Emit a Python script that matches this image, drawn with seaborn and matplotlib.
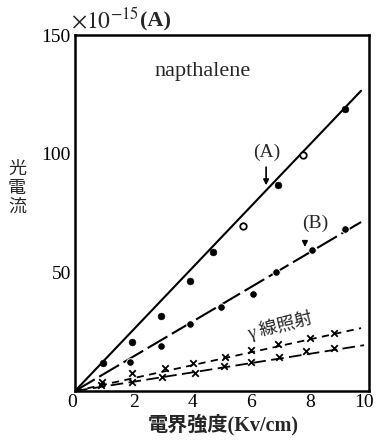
import matplotlib
matplotlib.use("Agg")
import matplotlib.pyplot as plt
import matplotlib.transforms as mtransforms
import seaborn as sns
import pandas as pd

sns.set_theme(style="white")
plt.rcParams["font.family"] = ["Liberation Serif", "Noto Sans CJK JP", "DejaVu Sans"]
plt.rcParams["mathtext.fontset"] = "stix"

# Photocurrent (x1e-15 A) against field strength (kV/cm)
field_a = [0.95, 1.93, 2.92, 3.90, 4.68, 5.73, 6.92, 7.76, 9.19]
current_a = [11.8, 20.6, 31.5, 46.2, 58.4, 69.7, 87.0, 99.6, 118.9]
hollow_a = [False, False, False, False, False, True, False, True, False]

field_b = [1.86, 2.94, 3.90, 4.95, 6.05, 6.85, 8.07, 9.19]
current_b = [12.2, 18.9, 28.2, 35.3, 40.8, 50.2, 59.2, 68.1]

field_g1 = [0.92, 1.93, 3.05, 4.00, 5.10, 6.00, 6.90, 8.00, 8.80]
current_g1 = [3.8, 7.6, 9.7, 12.0, 14.3, 17.2, 20.0, 22.3, 24.4]

field_g2 = [0.90, 1.93, 2.95, 4.07, 5.08, 6.00, 6.95, 7.86, 8.81]
current_g2 = [2.5, 3.8, 5.9, 7.6, 10.5, 12.2, 14.3, 16.8, 18.1]

# Straight fitted lines (start, end)
fit_a_x, fit_a_y = [0, 9.73], [0, 126.5]
fit_b_x, fit_b_y = [0, 9.76], [0, 71.4]
fit_g1_x, fit_g1_y = [0, 9.73], [0, 26.5]
fit_g2_x, fit_g2_y = [0, 9.83], [0, 19.3]

x_ticks = [0, 2, 4, 6, 8, 10]
y_ticks = [50, 100, 150]

fig = plt.figure(figsize=(3.76, 4.41), dpi=100)
ax = fig.add_axes([75 / 376, 50 / 441, 294 / 376, 356 / 441])

ink = "black"
sns.lineplot(x=fit_a_x, y=fit_a_y, ax=ax, color=ink, lw=1.5)
sns.lineplot(x=fit_b_x, y=fit_b_y, ax=ax, color=ink, lw=1.5)
ax.lines[-1].set_dashes((11, 2.5))
sns.lineplot(x=fit_g1_x, y=fit_g1_y, ax=ax, color=ink, lw=1.3)
ax.lines[-1].set_dashes((4, 3))
sns.lineplot(x=fit_g2_x, y=fit_g2_y, ax=ax, color=ink, lw=1.3)
ax.lines[-1].set_dashes((7, 3))

df_a = pd.DataFrame({"f": field_a, "c": current_a, "h": hollow_a})
solid = df_a[~df_a["h"]]
open_ = df_a[df_a["h"]]
sns.scatterplot(data=solid, x="f", y="c", ax=ax, color=ink, s=24,
                edgecolor=ink, zorder=5)
sns.scatterplot(data=open_, x="f", y="c", ax=ax, color="white", s=22,
                edgecolor=ink, linewidth=1.3, zorder=5)
sns.scatterplot(x=field_b, y=current_b, ax=ax, color=ink, s=30,
                edgecolor="white", linewidth=0.7, zorder=5)
sns.scatterplot(x=field_g1, y=current_g1, ax=ax, color=ink, marker="x",
                s=22, linewidth=1.3, zorder=5)
sns.scatterplot(x=field_g2, y=current_g2, ax=ax, color=ink, marker="x",
                s=22, linewidth=1.3, zorder=5)

ax.set_xlim(0, 10)
ax.set_ylim(0, 150)
ax.set_xticks(x_ticks)
ax.set_yticks(y_ticks)
ax.set_xticklabels([str(v) for v in x_ticks])
ax.set_yticklabels([str(v) for v in y_ticks])
ax.tick_params(direction="in", length=6, width=1.2, colors=ink,
               labelsize=14, pad=2)
ax.tick_params(axis="y", pad=3)
# nudge the end labels so they stay inside the figure
shift_l = mtransforms.ScaledTranslation(-3 / 100, 0, fig.dpi_scale_trans)
shift_r = mtransforms.ScaledTranslation(-5 / 100, 0, fig.dpi_scale_trans)
xlabels = ax.get_xticklabels()
xlabels[0].set_transform(xlabels[0].get_transform() + shift_l)
xlabels[-1].set_transform(xlabels[-1].get_transform() + shift_r)
for sp in ax.spines.values():
    sp.set_visible(True)
    sp.set_color(ink)
    sp.set_linewidth(1.8)
ax.set_xlabel("")
ax.set_ylabel("")
ax.grid(False)

ax.text(4.35, 134.5, "napthalene", ha="center", va="center", fontsize=16)

ax.annotate("", xy=(6.5, 85.5), xytext=(6.5, 95.5),
            arrowprops=dict(arrowstyle="-|>", color=ink, lw=1.2,
                            mutation_scale=8))
ax.text(6.53, 100.4, "(A)", ha="center", va="center", fontsize=14)

ax.annotate("", xy=(7.82, 59.5), xytext=(7.82, 64.0),
            arrowprops=dict(arrowstyle="-|>", color=ink, lw=1.2,
                            mutation_scale=8))
ax.text(8.16, 70.6, "(B)", ha="center", va="center", fontsize=14)

ax.text(6.97, 27.5, "γ 線照射", ha="center", va="center", fontsize=13,
        rotation=14, family=["Liberation Serif", "Noto Sans CJK JP"])

fig.text(71 / 376, 1 - 20 / 441, r"$\times10^{-15}$", ha="left", va="center",
         fontsize=17)
fig.text(140 / 376, 1 - 21 / 441, "(A)", ha="left", va="center",
         fontsize=16, fontweight="bold")

fig.text(17 / 376, 1 - 188 / 441, "光\n電\n流", ha="center", va="center",
         fontsize=13, linespacing=1.05,
         family=["Noto Sans CJK JP", "DejaVu Sans"])

fig.text(223 / 376, 1 - 425 / 441, "電界強度(Kv/cm)", ha="center",
         va="center", fontsize=14.5, fontweight="bold")

fig.savefig("out.png", dpi=100)
